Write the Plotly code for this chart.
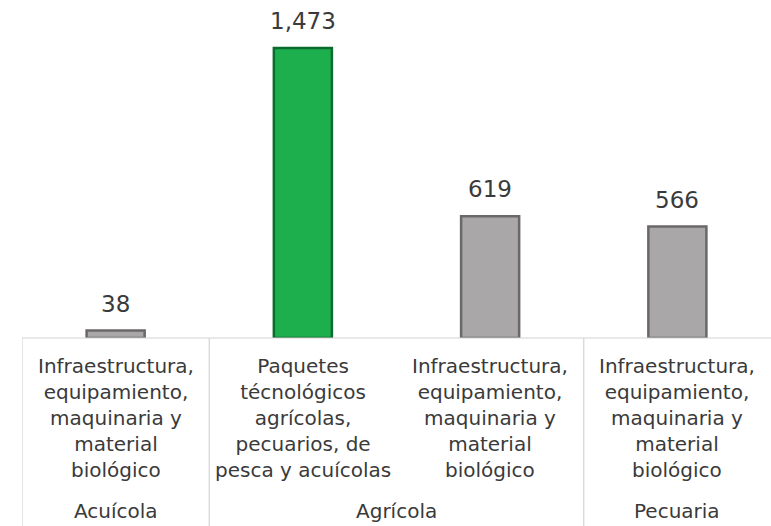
import plotly.graph_objects as go

categories = [
    "Infraestructura,<br>equipamiento,<br>maquinaria y<br>material<br>biológico",
    "Paquetes<br>técnológicos<br>agrícolas,<br>pecuarios, de<br>pesca y acuícolas",
    "Infraestructura,<br>equipamiento,<br>maquinaria y<br>material<br>biológico",
    "Infraestructura,<br>equipamiento,<br>maquinaria y<br>material<br>biológico",
]
values = [38, 1473, 619, 566]
groups = ["Acuícola", "Agrícola", "Pecuaria"]
group_members = [[0], [1, 2], [3]]
bar_colors = ["#A9A7A7", "#1DAF4E", "#A9A7A7", "#A9A7A7"]
edge_colors = ["#6A6868", "#0B6B2D", "#6A6868", "#6A6868"]

xs = list(range(len(values)))
FONT = "DejaVu Sans, sans-serif"
TXT = "#3A3A3A"

fig = go.Figure()
fig.add_trace(go.Bar(
    x=xs, y=values, width=0.31,
    marker=dict(color=bar_colors, line=dict(color=edge_colors, width=2.5)),
    cliponaxis=False,
))

shapes = []
shapes.append(dict(type="line", xref="x", yref="paper", x0=-0.5, x1=3.5, y0=0, y1=0,
                   line=dict(color="#D4D4D4", width=1.2)))
bounds = [-0.5]
for m in group_members:
    bounds.append(m[-1] + 0.5)
for b in bounds[:-1]:
    shapes.append(dict(type="line", xref="x", yref="paper", x0=b, x1=b, y0=0, y1=-0.6,
                       line=dict(color="#D4D4D4", width=1.2)))

annotations = []
for i, v in enumerate(values):
    annotations.append(dict(x=i, y=v, xref="x", yref="y", text=f"{v:,}", showarrow=False,
                            yanchor="bottom", yshift=12,
                            font=dict(size=23, color=TXT, family=FONT)))
for i, c in enumerate(categories):
    annotations.append(dict(x=i, y=0, xref="x", yref="paper", text=c, showarrow=False,
                            yanchor="top", yshift=-14, align="center",
                            font=dict(size=20, color=TXT, family=FONT)))
for g, m in zip(groups, group_members):
    annotations.append(dict(x=sum(m) / len(m), y=0, xref="x", yref="paper", text=g,
                            showarrow=False, yanchor="middle", yshift=-173,
                            font=dict(size=20, color=TXT, family=FONT)))

fig.update_layout(
    width=771, height=526,
    margin=dict(l=22, r=0, t=0, b=188),
    plot_bgcolor="white", paper_bgcolor="white",
    showlegend=False,
    xaxis=dict(range=[-0.5, 3.5], showticklabels=False, showgrid=False, zeroline=False,
               showline=False, ticks=""),
    yaxis=dict(range=[0, 1717], visible=False, showgrid=False, zeroline=False),
    shapes=shapes, annotations=annotations,
)
fig.write_html("out.html", config={"displayModeBar": False},
               post_script="document.body.style.margin='0';")
